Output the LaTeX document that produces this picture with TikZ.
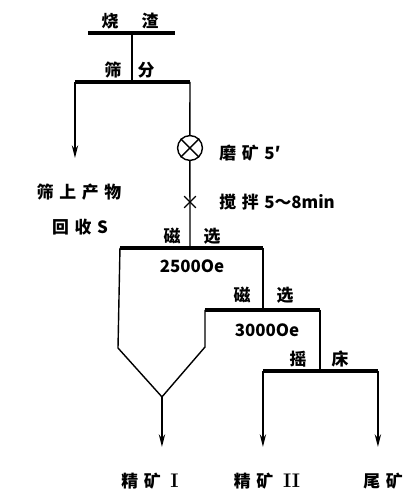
\documentclass[tikz,border=0pt]{standalone}
\usepackage{fontspec}
\usetikzlibrary{arrows.meta,shapes.misc}
\newfontfamily\cjk{Noto Sans CJK SC}
\newcommand{\gap}{\hspace{4pt}}
\newcommand{\romnum}[1]{\hspace{3pt}{\rmfamily\bfseries\fontsize{14}{16}\selectfont #1}}
\begin{document}
\begin{tikzpicture}[scale=0.025]
\tikzstyle{every node}+=[inner sep=0pt, font=\cjk\bfseries\fontsize{12}{14}\selectfont]
\tikzstyle{bar}=[black, line width=2.4pt]
\tikzstyle{flow}=[black, line width=1pt]
\tikzstyle{product}=[flow, -{Stealth[length=9pt,width=4.5pt]}]
\useasboundingbox (0,0) rectangle (416,-502);
% slag and screening
\coordinate (slagL) at (88,-33);
\coordinate (slagR) at (175,-33);
\coordinate (slagM) at (132,-33);
\coordinate (sieveL) at (75,-82);
\coordinate (sieveR) at (190,-82);
\coordinate (sieveM) at (132,-82);
\coordinate (oversize) at (75,-158);
\draw [bar] (slagL) -- (slagR);
\draw (110,-21) node (slag1) {烧};
\draw (150,-21) node (slag2) {渣};
\draw [flow] (slagM) -- (sieveM);
\draw [bar] (sieveL) -- (sieveR);
\draw (113,-70) node (sieve1) {筛};
\draw (146,-70) node (sieve2) {分};
\draw [product] (sieveL) -- (oversize);
\draw (79,-192) node (over) {筛\gap 上\gap 产\gap 物};
\draw (80,-227) node (recov) {回\gap 收\gap S};
% grinding and stirring
\draw [flow] (190,-148) node [circle, draw, line width=1pt, minimum size=0.62cm] (mill) {};
\draw [flow] (mill.45) -- (mill.225);
\draw [flow] (mill.135) -- (mill.315);
\draw [flow] (sieveR) -- (mill);
\draw (219,-153) node [anchor=west] (grind) {磨\gap 矿\gap 5′};
\coordinate (magA) at (190,-248);
\draw [flow] (mill) -- (magA);
\draw (190,-202) node [cross out, draw, line width=0.9pt, minimum size=0.26cm] (stir) {};
\draw (219,-202) node [anchor=west] (stirtxt) {搅\gap 拌\gap 5～8min};
% first magnetic separation
\coordinate (magAL) at (120,-248);
\coordinate (magAR) at (263,-248);
\draw [bar] (magAL) -- (magAR);
\draw (172,-236) node (magA1) {磁};
\draw (212,-236) node (magA2) {选};
\draw (192,-266) node (fieldA) {2500Oe};
% second magnetic separation
\coordinate (magBL) at (205,-310);
\coordinate (magBR) at (320,-310);
\draw [bar] (magBL) -- (magBR);
\draw [flow] (magAR) -- (magAR |- magBL);
\draw (242,-295) node (magB1) {磁};
\draw (285,-295) node (magB2) {选};
\draw (267,-330) node (fieldB) {3000Oe};
% hopper
\coordinate (tip) at (162,-397);
\draw [flow] (magAL) -- (118,-348) -- (tip) -- (205,-347) -- (magBL);
% shaking table
\coordinate (tabL) at (263,-371);
\coordinate (tabR) at (378,-371);
\draw [bar] (tabL) -- (tabR);
\draw [flow] (magBR) -- (magBR |- tabL);
\draw (298,-359) node (tab1) {摇};
\draw (340,-359) node (tab2) {床};
% products
\coordinate (concA) at (162,-447);
\coordinate (concB) at (263,-447);
\coordinate (tail) at (378,-447);
\draw [product] (tip) -- (concA);
\draw [product] (tabL) -- (concB);
\draw [product] (tabR) -- (tail);
\draw (150,-481) node (prodA) {精\gap 矿\gap \romnum{I}};
\draw (267,-481) node (prodB) {精\gap 矿\gap \romnum{II}};
\draw (383,-481) node (prodC) {尾\gap 矿};
\end{tikzpicture}
\end{document}
